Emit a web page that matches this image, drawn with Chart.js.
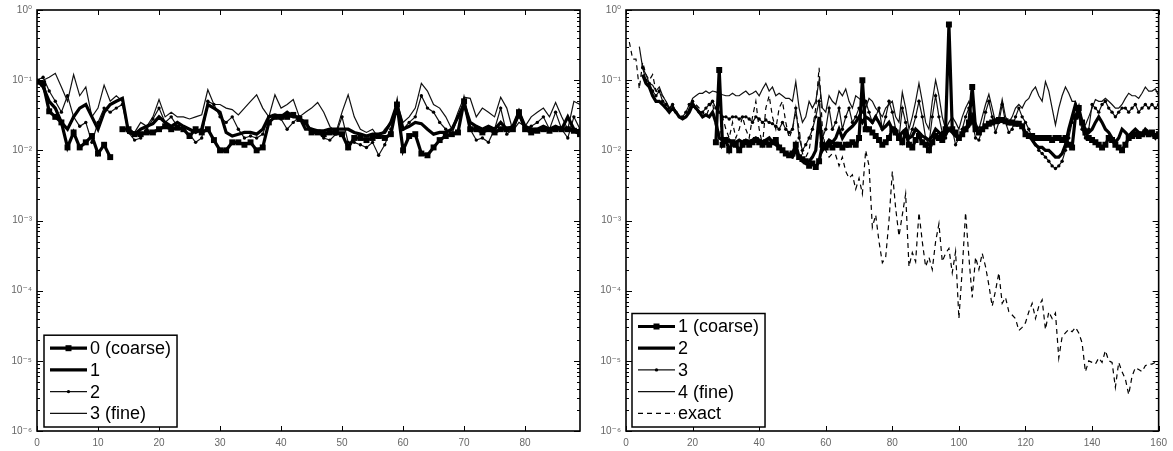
<!DOCTYPE html>
<html><head><meta charset="utf-8">
<script src="https://cdn.jsdelivr.net/npm/chart.js@4"></script>
<style>
html,body{margin:0;padding:0;background:#fff;}
#wrap{position:relative;width:1173px;height:451px;overflow:hidden;}
.panel{position:absolute;top:0;height:451px;}
</style></head><body>
<div id="wrap">
<div class="panel" style="left:0;width:590px"><canvas id="c1"></canvas></div>
<div class="panel" style="left:590px;width:583px"><canvas id="c2"></canvas></div>
</div>
<script>
// ---------- LEFT PANEL DATA (x = start + index) ----------
const leftLabels = ['0 (coarse)', '1', '2', '3 (fine)'];
const leftXTicks = [0, 10, 20, 30, 40, 50, 60, 70, 80];
const L_coarse_start = 0;
const L_coarse = [
  0.095, 0.09, 0.036, 0.03, 0.025, 0.011, 0.018, 0.011, 0.013, 0.016,
  0.009, 0.012, 0.008, null, 0.02, 0.02, 0.017, 0.017, 0.018, 0.018,
  0.02, 0.022, 0.02, 0.021, 0.02, 0.016, 0.02, 0.018, 0.02, 0.014,
  0.01, 0.01, 0.013, 0.013, 0.012, 0.013, 0.01, 0.011, 0.025, 0.03,
  0.03, 0.03, 0.032, 0.028, 0.025, 0.018, 0.018, 0.017, 0.018, 0.018,
  0.017, 0.011, 0.015, 0.015, 0.014, 0.015, 0.016, 0.015, 0.017, 0.045,
  0.01, 0.016, 0.017, 0.009, 0.0085, 0.011, 0.014, 0.016, 0.017, 0.018,
  0.05, 0.02, 0.02, 0.018, 0.02, 0.018, 0.02, 0.02, 0.02, 0.035,
  0.02, 0.018, 0.019, 0.02, 0.019, 0.02, 0.02, 0.02, 0.019, 0.017
];
const L_lvl1_start = 0;
const L_lvl1 = [
  0.1, 0.08, 0.05, 0.04, 0.025, 0.02, 0.03, 0.04, 0.045, 0.03,
  0.02, 0.035, 0.045, 0.05, 0.055, 0.018, 0.017, 0.02, 0.022, 0.024,
  0.03, 0.025, 0.022, 0.025, 0.022, 0.02, 0.018, 0.02, 0.045, 0.04,
  0.035, 0.018, 0.016, 0.017, 0.018, 0.018, 0.017, 0.02, 0.03, 0.032,
  0.03, 0.035, 0.03, 0.03, 0.02, 0.02, 0.019, 0.019, 0.02, 0.02,
  0.02, 0.02, 0.018, 0.017, 0.016, 0.017, 0.017, 0.018, 0.025, 0.045,
  0.02, 0.022, 0.025, 0.024, 0.02, 0.017, 0.018, 0.018, 0.02, 0.03,
  0.045, 0.025, 0.022, 0.02, 0.022, 0.02, 0.025, 0.02, 0.022, 0.035,
  0.022, 0.02, 0.02, 0.022, 0.02, 0.022, 0.02, 0.03, 0.02, 0.018
];
const L_lvl2_start = 0;
const L_lvl2 = [
  0.1, 0.11, 0.07, 0.05, 0.035, 0.06, 0.03, 0.022, 0.025, 0.013,
  0.025, 0.04, 0.035, 0.04, 0.045, 0.018, 0.014, 0.015, 0.02, 0.028,
  0.04, 0.025, 0.03, 0.022, 0.02, 0.017, 0.013, 0.015, 0.05, 0.045,
  0.03, 0.025, 0.03, 0.02, 0.015, 0.016, 0.015, 0.017, 0.03, 0.03,
  0.028, 0.02, 0.025, 0.03, 0.025, 0.02, 0.018, 0.015, 0.014, 0.017,
  0.03, 0.013, 0.013, 0.012, 0.011, 0.013, 0.0085, 0.012, 0.02, 0.04,
  0.02, 0.025, 0.03, 0.06, 0.04, 0.035, 0.025, 0.02, 0.017, 0.03,
  0.05, 0.02, 0.014, 0.015, 0.013, 0.02, 0.04, 0.017, 0.02, 0.03,
  0.02, 0.022, 0.025, 0.03, 0.02, 0.035, 0.02, 0.015, 0.03, 0.02
];
const L_fine_start = 0;
const L_fine = [
  0.09, 0.1, 0.11, 0.125, 0.08, 0.05, 0.12, 0.06, 0.08, 0.03,
  0.04, 0.085, 0.05, 0.06, 0.05, 0.02, 0.018, 0.025, 0.022, 0.03,
  0.053, 0.03, 0.035, 0.03, 0.03, 0.028, 0.03, 0.032, 0.073, 0.045,
  0.045, 0.04, 0.038, 0.032, 0.04, 0.05, 0.062, 0.04, 0.03, 0.062,
  0.04, 0.045, 0.053, 0.03, 0.035, 0.04, 0.048, 0.035, 0.022, 0.018,
  0.035, 0.062, 0.03, 0.02, 0.018, 0.02, 0.015, 0.02, 0.025, 0.048,
  0.025, 0.03, 0.04, 0.09, 0.07, 0.045, 0.04, 0.03, 0.02, 0.035,
  0.057, 0.055, 0.03, 0.04, 0.035, 0.03, 0.057, 0.04, 0.019, 0.025,
  0.022, 0.03, 0.035, 0.04, 0.03, 0.048, 0.03, 0.02, 0.05, 0.045
];

// ---------- RIGHT PANEL DATA ----------
const rightLabels = ['1 (coarse)', '2', '3', '4 (fine)', 'exact'];
const rightXTicks = [0, 20, 40, 60, 80, 100, 120, 140, 160];
const R_coarse_start = 27;
const R_coarse = [
  0.013, 0.14, 0.012,
  0.014, 0.01, 0.013, 0.012, 0.01, 0.012, 0.013, 0.012, 0.013, 0.014,
  0.013, 0.012, 0.013, 0.012, 0.013, 0.014, 0.011, 0.01, 0.009, 0.0085,
  0.009, 0.012, 0.008, 0.0075, 0.007, 0.006, 0.0065, 0.0058, 0.007, 0.012,
  0.011, 0.012, 0.011, 0.012, 0.012, 0.011, 0.012, 0.012, 0.013, 0.012,
  0.015, 0.1, 0.02, 0.02, 0.018, 0.016, 0.014, 0.012, 0.013, 0.015,
  0.02, 0.018, 0.015, 0.013, 0.018, 0.012, 0.011, 0.014, 0.016, 0.013,
  0.012, 0.01, 0.013, 0.016, 0.015, 0.014, 0.02, 0.62, 0.02, 0.018,
  0.015, 0.017, 0.02, 0.025, 0.08, 0.02, 0.018, 0.02, 0.022, 0.024,
  0.025, 0.026, 0.027, 0.027, 0.026, 0.025, 0.025, 0.024, 0.024, 0.022,
  0.017, 0.016, 0.016, 0.015, 0.015, 0.015, 0.015, 0.015, 0.014, 0.015,
  0.015, 0.014, 0.015, 0.012, 0.011, 0.03, 0.04, 0.025, 0.018, 0.015,
  0.014, 0.013, 0.012, 0.011, 0.012, 0.015, 0.014, 0.012, 0.011, 0.01,
  0.012, 0.015, 0.016, 0.017, 0.016, 0.017, 0.018, 0.017, 0.018, 0.016, 0.017
];
const R_lvl2_start = 5;
const R_lvl2 = [
  0.12, 0.09, 0.08, 0.06, 0.05,
  0.05, 0.045, 0.04, 0.035, 0.04, 0.035, 0.03, 0.028, 0.03, 0.035,
  0.045, 0.04, 0.035, 0.03, 0.032, 0.03, 0.035, 0.025, 0.015, 0.014,
  0.013, 0.014, 0.012, 0.013, 0.014, 0.013, 0.014, 0.013, 0.014, 0.015,
  0.014, 0.013, 0.014, 0.015, 0.013, 0.012, 0.011, 0.01, 0.009, 0.0085,
  0.008, 0.01, 0.008, 0.007, 0.0065, 0.007, 0.008, 0.01, 0.03, 0.01,
  0.012, 0.014, 0.013, 0.015, 0.02, 0.015, 0.018, 0.02, 0.022, 0.025,
  0.03, 0.025, 0.03, 0.028, 0.025, 0.03, 0.025, 0.02, 0.022, 0.025,
  0.02, 0.018, 0.016, 0.018, 0.02, 0.015, 0.016, 0.02, 0.018, 0.016,
  0.015, 0.014, 0.016, 0.02, 0.018, 0.016, 0.017, 0.02, 0.018, 0.016,
  0.015, 0.017, 0.02, 0.022, 0.03, 0.02, 0.018, 0.02, 0.022, 0.024,
  0.025, 0.026, 0.027, 0.027, 0.026, 0.025, 0.024, 0.025, 0.024, 0.022,
  0.018, 0.016, 0.014, 0.012, 0.011, 0.011, 0.01, 0.01, 0.009, 0.008,
  0.008, 0.009, 0.012, 0.02, 0.03, 0.045, 0.035, 0.025, 0.02, 0.018,
  0.02, 0.025, 0.03, 0.025, 0.02, 0.018, 0.015, 0.013, 0.015, 0.02,
  0.018, 0.016, 0.018, 0.02, 0.018, 0.017, 0.02, 0.018, 0.017, 0.015, 0.018
];
const R_lvl3_start = 5;
const R_lvl3 = [
  0.15, 0.1, 0.09, 0.07, 0.06,
  0.07, 0.05, 0.045, 0.04, 0.045, 0.035, 0.03, 0.03, 0.035, 0.045,
  0.05, 0.04, 0.035, 0.035, 0.04, 0.045, 0.05, 0.04, 0.035, 0.03,
  0.03, 0.028, 0.03, 0.03, 0.028, 0.03, 0.03, 0.028, 0.025, 0.03,
  0.028, 0.025, 0.027, 0.025, 0.024, 0.022, 0.02, 0.025, 0.02, 0.018,
  0.02, 0.04, 0.015, 0.01, 0.012, 0.015, 0.02, 0.03, 0.05, 0.015,
  0.02, 0.04, 0.02, 0.025, 0.04, 0.02, 0.03, 0.04, 0.025, 0.03,
  0.04, 0.035, 0.05, 0.035, 0.025, 0.03, 0.04, 0.02, 0.03, 0.05,
  0.035, 0.02, 0.015, 0.04, 0.025, 0.015, 0.02, 0.03, 0.05, 0.03,
  0.015, 0.012, 0.03, 0.06, 0.03, 0.018, 0.015, 0.02, 0.02, 0.012,
  0.015, 0.02, 0.03, 0.04, 0.025, 0.015, 0.014, 0.02, 0.035, 0.05,
  0.03, 0.018, 0.025, 0.045, 0.025, 0.018, 0.02, 0.03, 0.04, 0.03,
  0.025, 0.02, 0.015, 0.012, 0.01, 0.009, 0.008, 0.007, 0.006, 0.0055,
  0.006, 0.007, 0.01, 0.015, 0.025, 0.04, 0.03, 0.02, 0.015, 0.02,
  0.045, 0.04, 0.035, 0.045, 0.05, 0.04, 0.035, 0.03, 0.035, 0.04,
  0.04, 0.035, 0.04, 0.045, 0.035, 0.04, 0.045, 0.04, 0.045, 0.04, 0.045
];
const R_fine_start = 4;
const R_fine = [
  0.3, 0.15, 0.12, 0.09, 0.085, 0.07,
  0.08, 0.06, 0.05, 0.04, 0.045, 0.035, 0.03, 0.028, 0.03, 0.04,
  0.055, 0.06, 0.065, 0.065, 0.07, 0.065, 0.07, 0.068, 0.065, 0.062,
  0.06, 0.06, 0.065, 0.06, 0.06, 0.065, 0.07, 0.062, 0.065, 0.07,
  0.06, 0.075, 0.09, 0.07, 0.08, 0.06, 0.065, 0.06, 0.055, 0.055,
  0.05, 0.095, 0.04, 0.025, 0.03, 0.05, 0.04, 0.05, 0.1, 0.04,
  0.035, 0.06, 0.05, 0.045, 0.07, 0.06, 0.075, 0.05, 0.04, 0.06,
  0.055, 0.05, 0.04, 0.055, 0.05, 0.04, 0.035, 0.03, 0.04, 0.045,
  0.05, 0.03, 0.025, 0.067, 0.04, 0.02, 0.03, 0.05, 0.09, 0.05,
  0.025, 0.02, 0.05, 0.1, 0.06, 0.03, 0.02, 0.025, 0.03, 0.025,
  0.02, 0.03, 0.04, 0.05, 0.03, 0.025, 0.02, 0.03, 0.045, 0.063,
  0.04, 0.025, 0.03, 0.053, 0.03, 0.025, 0.03, 0.04, 0.045, 0.04,
  0.05, 0.055, 0.07, 0.08, 0.06, 0.05, 0.095, 0.07, 0.04, 0.023,
  0.04, 0.06, 0.08, 0.065, 0.05, 0.05, 0.035, 0.025, 0.023, 0.03,
  0.04, 0.053, 0.05, 0.05, 0.055, 0.05, 0.045, 0.04, 0.04, 0.045,
  0.055, 0.065, 0.06, 0.06, 0.055, 0.065, 0.08, 0.07, 0.07, 0.075, 0.06
];
const R_exact_start = 1;
const R_exact = [
  0.35, 0.2, 0.2, 0.075, 0.18, 0.12, 0.1, 0.12, 0.07,
  0.065, 0.06, 0.05, 0.04, 0.045, 0.035, 0.032, 0.03, 0.03, 0.04,
  0.05, 0.045, 0.04, 0.035, 0.03, 0.04, 0.05, 0.02, 0.015, 0.03,
  0.02, 0.015, 0.025, 0.015, 0.02, 0.03, 0.02, 0.015, 0.03, 0.05,
  0.02, 0.012, 0.04, 0.06, 0.03, 0.02, 0.04, 0.05, 0.025, 0.015,
  0.02, 0.035, 0.02, 0.009, 0.008, 0.01, 0.02, 0.04, 0.15, 0.02,
  0.01, 0.008, 0.009, 0.0085, 0.006, 0.008, 0.005, 0.004, 0.0045, 0.0028,
  0.004, 0.0024, 0.01, 0.006, 0.0008, 0.0012, 0.0005, 0.00025, 0.0003, 0.001,
  0.005, 0.0015, 0.0006, 0.0012, 0.0024, 0.00022, 0.00035, 0.00026, 0.0013, 0.0005,
  0.00022, 0.0003, 0.0002, 0.0005, 0.0009, 0.00026, 0.00034, 0.0004, 0.00018, 0.00036,
  0.00004, 0.0002, 0.0013, 0.0003, 0.00008, 0.0003, 0.0002, 0.00034, 0.00022, 0.00012,
  0.00006, 0.0001, 0.00018, 0.000066, 0.00008, 0.00005, 0.000045, 0.00004, 0.000027, 0.00003,
  0.000035, 0.00005, 0.000066, 0.00004, 0.00006, 0.000074, 0.000028, 0.00005, 0.00004, 0.000048,
  0.000011, 0.000022, 0.000025, 0.000028, 0.000026, 0.00003, 0.000025, 0.000018, 0.000007, 0.00001,
  0.0000095, 0.000009, 0.000011, 0.0000095, 0.000014, 0.00001, 0.0000095, 0.0000042, 0.0000095, 0.000007,
  0.0000055, 0.0000033, 0.000006, 0.000008, 0.0000075, 0.000007, 0.0000085, 0.000009, 0.000009, 0.0000095, 0.00001
];

// ---------- helpers ----------
function pts(start, arr) { return arr.map((v, i) => ({ x: start + i, y: v })); }
const SUP = { '-': '\u207B', '0': '\u2070', '1': '\u00B9', '2': '\u00B2', '3': '\u00B3', '4': '\u2074', '5': '\u2075', '6': '\u2076', '7': '\u2077', '8': '\u2078', '9': '\u2079' };
function sup(n) { return String(n).split('').map(c => SUP[c]).join(''); }
const FONT = "'Liberation Sans', Arial, 'DejaVu Sans', sans-serif";

function style(kind) {
  const base = { borderColor: '#000', backgroundColor: '#000', fill: false, tension: 0, pointHoverRadius: 0 };
  if (kind === 'coarse') return Object.assign(base, { borderWidth: 3.2, pointStyle: 'rect', pointRadius: 4.2, pointBorderWidth: 0, pointBackgroundColor: '#000' });
  if (kind === 'thick') return Object.assign(base, { borderWidth: 3.2, pointRadius: 0 });
  if (kind === 'dot') return Object.assign(base, { borderWidth: 1.2, borderColor: '#111', pointRadius: 1.7, pointBorderWidth: 0, pointBackgroundColor: '#000' });
  if (kind === 'fine') return Object.assign(base, { borderWidth: 1.2, borderColor: '#111', pointRadius: 0 });
  if (kind === 'exact') return Object.assign(base, { borderWidth: 1.2, borderColor: '#000', borderDash: [5, 4], pointRadius: 0 });
}

const framePlugin = {
  id: 'frame',
  afterDatasetsDraw(chart) {
    const { ctx, chartArea: a } = chart;
    const x = chart.scales.x, y = chart.scales.y;
    ctx.save();
    ctx.strokeStyle = '#000';
    ctx.lineWidth = 1;
    const seg = (x1, y1, x2, y2) => { ctx.beginPath(); ctx.moveTo(x1, y1); ctx.lineTo(x2, y2); ctx.stroke(); };
    for (let e = -6; e <= 0; e++) {
      for (let k = 1; k <= 9; k++) {
        if (e === 0 && k > 1) break;
        const py = Math.round(y.getPixelForValue(k * Math.pow(10, e))) + 0.5;
        const len = k === 1 ? 6 : 3;
        seg(a.left, py, a.left + len, py);
        seg(a.right, py, a.right - len, py);
      }
    }
    x.ticks.forEach(t => {
      const px = Math.round(x.getPixelForValue(t.value)) + 0.5;
      seg(px, a.bottom, px, a.bottom - 5);
      seg(px, a.top, px, a.top + 5);
    });
    ctx.lineWidth = 1.6;
    ctx.strokeRect(a.left, a.top, a.right - a.left, a.bottom - a.top);
    ctx.restore();
  }
};

const legendPlugin = {
  id: 'boxlegend',
  afterDraw(chart, args, opts) {
    const { ctx, chartArea: a } = chart;
    const n = chart.data.datasets.length;
    const rowH = 21.7;
    ctx.save();
    ctx.font = '18px ' + FONT;
    let maxW = 0;
    chart.data.datasets.forEach(d => { maxW = Math.max(maxW, ctx.measureText(d.label).width); });
    const bx = a.left + opts.dx;
    const bh = n * rowH + 5;
    const by = a.bottom - 4 - bh;
    const bw = 46 + maxW + 6;
    ctx.fillStyle = '#fff';
    ctx.fillRect(bx, by, bw, bh);
    ctx.strokeStyle = '#000';
    ctx.lineWidth = 1.5;
    ctx.strokeRect(bx, by, bw, bh);
    chart.data.datasets.forEach((d, i) => {
      const cy = by + 13 + i * rowH;
      ctx.strokeStyle = d.borderColor;
      ctx.lineWidth = d.borderWidth;
      ctx.setLineDash(d.borderDash || []);
      ctx.beginPath(); ctx.moveTo(bx + 6, cy); ctx.lineTo(bx + 43, cy); ctx.stroke();
      ctx.setLineDash([]);
      if (d.pointRadius > 0) {
        ctx.fillStyle = '#000';
        if (d.pointStyle === 'rect') { ctx.fillRect(bx + 21.5, cy - 3, 6, 6); }
        else { ctx.beginPath(); ctx.arc(bx + 24.5, cy, 1.7, 0, Math.PI * 2); ctx.fill(); }
      }
      ctx.fillStyle = '#000';
      ctx.textBaseline = 'middle';
      ctx.textAlign = 'left';
      ctx.fillText(d.label, bx + 46, cy + 1);
    });
    ctx.restore();
  }
};

function makeChart(id, datasets, xmax, xstep, yw, padTop, padRight, legendDx) {
  return new Chart(document.getElementById(id), {
    type: 'line',
    data: { datasets },
    plugins: [framePlugin, legendPlugin],
    options: {
      responsive: true, maintainAspectRatio: false, animation: false, events: [],
      layout: { padding: { top: padTop, right: padRight, left: 0, bottom: 0 } },
      plugins: { legend: { display: false }, tooltip: { enabled: false }, boxlegend: { dx: legendDx } },
      scales: {
        x: {
          type: 'linear', min: 0, max: xmax,
          grid: { display: false, drawTicks: false }, border: { display: false },
          ticks: { stepSize: xstep, includeBounds: false, padding: 6, color: '#666', font: { size: 10, family: FONT }, maxRotation: 0, autoSkip: false },
          afterFit: s => { s.height = 20; }
        },
        y: {
          type: 'logarithmic', min: 1e-6, max: 1,
          grid: { display: false, drawTicks: false }, border: { display: false },
          ticks: {
            autoSkip: false, padding: 5, color: '#666', font: { size: 10, family: FONT, lineHeight: 1 },
            callback: v => {
              const e = Math.round(Math.log10(v));
              return Math.abs(v / Math.pow(10, e) - 1) < 1e-6 ? '10' + sup(e) : '';
            }
          },
          afterFit: s => { s.width = yw; }
        }
      }
    }
  });
}

const leftDatasets = [
  Object.assign({ label: leftLabels[0], data: pts(L_coarse_start, L_coarse) }, style('coarse')),
  Object.assign({ label: leftLabels[1], data: pts(L_lvl1_start, L_lvl1) }, style('thick')),
  Object.assign({ label: leftLabels[2], data: pts(L_lvl2_start, L_lvl2) }, style('dot')),
  Object.assign({ label: leftLabels[3], data: pts(L_fine_start, L_fine) }, style('fine'))
];
const rightDatasets = [
  Object.assign({ label: rightLabels[0], data: pts(R_coarse_start, R_coarse) }, style('coarse')),
  Object.assign({ label: rightLabels[1], data: pts(R_lvl2_start, R_lvl2) }, style('thick')),
  Object.assign({ label: rightLabels[2], data: pts(R_lvl3_start, R_lvl3) }, style('dot')),
  Object.assign({ label: rightLabels[3], data: pts(R_fine_start, R_fine) }, style('fine')),
  Object.assign({ label: rightLabels[4], data: pts(R_exact_start, R_exact) }, style('exact'))
];

makeChart('c1', leftDatasets, 89, leftXTicks[1] - leftXTicks[0], 37, 4, 10, 7);
makeChart('c2', rightDatasets, 160, rightXTicks[1] - rightXTicks[0], 36, 8, 10, 6);
</script>
</body></html>
